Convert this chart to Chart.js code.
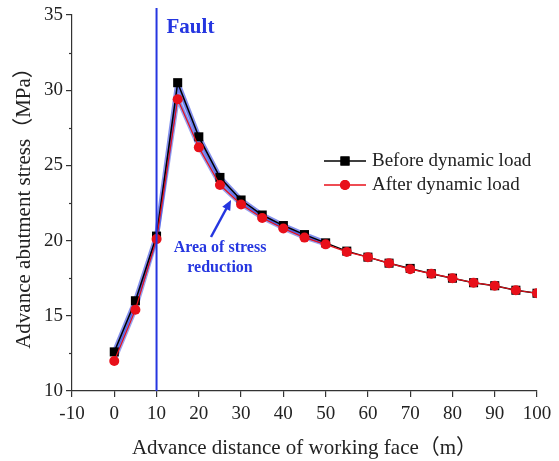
<!DOCTYPE html>
<html>
<head>
<meta charset="utf-8">
<script src="https://cdn.jsdelivr.net/npm/chart.js@4.4.0/dist/chart.umd.min.js"></script>
<style>
html,body{margin:0;padding:0;background:#fff}
</style>
</head>
<body>
<canvas id="myChart" width="559" height="461"></canvas>
<script>
// values
var distance = [0,5,10,15,20,25,30,35,40,45,50,55,60,65,70,75,80,85,90,95,100]
var beforeLoad = [12.6,16.0,20.3,30.5,26.9,24.2,22.7,21.7,21.0,20.4,19.85,19.3,18.9,18.5,18.15,17.8,17.5,17.2,17.0,16.7,16.5]
var afterLoad = [12.0,15.4,20.1,29.4,26.2,23.7,22.4,21.5,20.8,20.2,19.75,19.25,18.9,18.5,18.1,17.8,17.5,17.2,17.0,16.7,16.5]
var minorY = [12.5,17.5,22.5,27.5,32.5]
var faultAt = 10
var bandCount = 11 // shaded band from 0 to 50 m

var serif = '"Liberation Serif", "Times New Roman", "Noto Sans CJK SC", serif'
var blue = '#2536e0'

function pts(ys, n){
    var out = []
    for (var i = 0; i < (n || ys.length); i++) out.push({x: distance[i], y: ys[i]})
    return out
}

var overlay = {
    id: 'overlay',
    afterDraw: function(chart){
        var ctx = chart.ctx
        var xs = chart.scales.x, ys = chart.scales.y, area = chart.chartArea
        var fx = xs.getPixelForValue(faultAt)
        ctx.save()
        // minor ticks on y
        ctx.strokeStyle = '#333'
        ctx.lineWidth = 1.2
        minorY.forEach(function(v){
            var py = Math.round(ys.getPixelForValue(v)) + 0.5
            ctx.beginPath()
            ctx.moveTo(area.left - 3, py)
            ctx.lineTo(area.left, py)
            ctx.stroke()
        })

        // fault line
        ctx.strokeStyle = blue
        ctx.lineWidth = 2
        ctx.beginPath()
        ctx.moveTo(fx, 8)
        ctx.lineTo(fx, area.bottom)
        ctx.stroke()

        ctx.fillStyle = blue
        ctx.font = 'bold 21px ' + serif
        ctx.textBaseline = 'alphabetic'
        ctx.textAlign = 'left'
        ctx.fillText('Fault', fx + 10, 33)

        // annotation
        ctx.font = 'bold 16px ' + serif
        ctx.textAlign = 'center'
        ctx.fillText('Area of stress', 220, 252)
        ctx.fillText('reduction', 220, 272)

        // arrow
        var x0 = 211, y0 = 237, x1 = 231, y1 = 200
        var ang = Math.atan2(y1 - y0, x1 - x0)
        ctx.lineWidth = 2.5
        ctx.beginPath()
        ctx.moveTo(x0, y0)
        ctx.lineTo(x1 - 6 * Math.cos(ang), y1 - 6 * Math.sin(ang))
        ctx.stroke()
        ctx.beginPath()
        ctx.moveTo(x1, y1)
        ctx.lineTo(x1 - 10 * Math.cos(ang) + 4.5 * Math.sin(ang), y1 - 10 * Math.sin(ang) - 4.5 * Math.cos(ang))
        ctx.lineTo(x1 - 10 * Math.cos(ang) - 4.5 * Math.sin(ang), y1 - 10 * Math.sin(ang) + 4.5 * Math.cos(ang))
        ctx.closePath()
        ctx.fill()

        // legend
        var items = [
            {label: 'Before dynamic load', color: '#000', style: 'rect', r: 6.4, y: 161},
            {label: 'After dynamic load', color: '#e8101a', style: 'circle', r: 5, y: 185}
        ]
        ctx.font = '19px ' + serif
        ctx.textAlign = 'left'
        ctx.textBaseline = 'middle'
        items.forEach(function(it){
            ctx.strokeStyle = it.color
            ctx.lineWidth = 1.5
            ctx.beginPath()
            ctx.moveTo(324, it.y)
            ctx.lineTo(366, it.y)
            ctx.stroke()
            ctx.fillStyle = it.color
            Chart.helpers.drawPoint(ctx, {pointStyle: it.style, radius: it.r, borderWidth: 0}, 345, it.y)
            ctx.fill()
            ctx.fillStyle = '#222'
            ctx.fillText(it.label, 372, it.y)
        })
        ctx.restore()
    }
}

var chart = new Chart(document.getElementById('myChart').getContext('2d'), {
    type: 'line',
    data: {
        datasets: [
            {
                label: 'Before dynamic load',
                data: pts(beforeLoad),
                borderColor: '#000',
                backgroundColor: '#000',
                borderWidth: 1.5,
                borderJoinStyle: 'round',
                pointStyle: 'rect',
                pointRadius: 6.4,
                pointBorderWidth: 0,
                order: 2
            },
            {
                label: 'After dynamic load',
                data: pts(afterLoad),
                borderColor: '#e8101a',
                backgroundColor: '#e8101a',
                borderWidth: 1.2,
                borderJoinStyle: 'round',
                pointStyle: 'circle',
                pointRadius: 5,
                pointBorderWidth: 0,
                order: 1
            },
            {
                label: 'band top',
                data: pts(beforeLoad, bandCount),
                borderColor: 'rgba(50,70,225,0.6)',
                backgroundColor: 'rgba(70,95,230,0.35)',
                borderWidth: 5,
                borderJoinStyle: 'round',
                pointRadius: 0,
                fill: 3,
                order: 3
            },
            {
                label: 'band bottom',
                data: pts(afterLoad, bandCount),
                borderColor: 'rgba(50,70,225,0.5)',
                borderWidth: 4,
                borderJoinStyle: 'round',
                pointRadius: 0,
                order: 4
            }
        ]
    },
    options: {
        responsive: false,
        animation: false,
        devicePixelRatio: 1,
        layout: {padding: {top: 15, right: 22, left: 0, bottom: 0}},
        plugins: {legend: {display: false}, tooltip: {enabled: false}},
        scales: {
            x: {
                type: 'linear',
                min: -10, max: 100,
                afterFit: function(s){ s.height = 70 },
                ticks: {stepSize: 10, color: '#222', font: {family: serif, size: 19}, padding: 6, maxRotation: 0},
                grid: {drawOnChartArea: false, tickLength: 6, color: '#333', lineWidth: 1.2},
                border: {color: '#333', width: 1.2},
                title: {display: true, text: 'Advance distance of working face（m）', color: '#222', font: {family: serif, size: 21}, padding: {bottom: 0}}
            },
            y: {
                min: 10, max: 35,
                afterFit: function(s){ s.width = 72 },
                ticks: {stepSize: 5, color: '#222', font: {family: serif, size: 19}, padding: 3},
                grid: {drawOnChartArea: false, tickLength: 6, color: '#333', lineWidth: 1.2},
                border: {color: '#333', width: 1.2},
                title: {display: true, text: 'Advance abutment stress（MPa）', color: '#222', font: {family: serif, size: 21}, padding: {top: 12}}
            }
        }
    },
    plugins: [overlay]
})
</script>
</body>
</html>
